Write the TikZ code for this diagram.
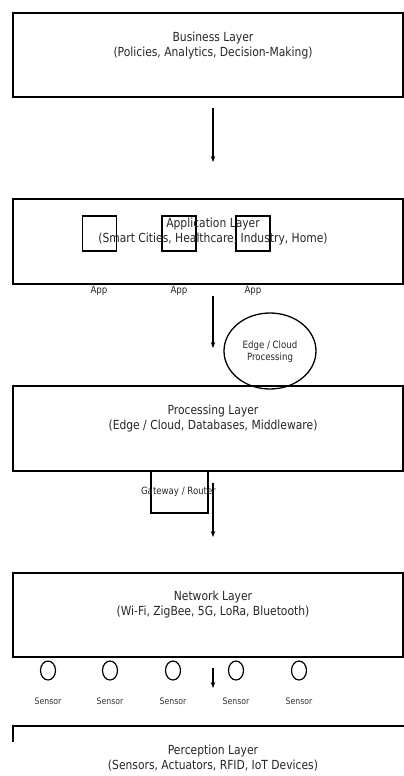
\documentclass[tikz,border=0pt]{standalone}
\usepackage{fontspec}
\setmainfont{DejaVu Sans}[FakeStretch=0.86]
\usetikzlibrary{shapes.geometric,arrows.meta}
\tikzset{
  layerbox/.style={draw, line width=2pt, minimum width=390pt, inner sep=0pt},
  layertext/.style={align=center, inner sep=0pt, font=\fontsize{12.5}{15}\selectfont, text=black!85},
  smalltext/.style={inner sep=0pt, font=\fontsize{10}{12.5}\selectfont, text=black!85, align=center},
  sensortext/.style={inner sep=0pt, font=\fontsize{9}{11}\selectfont, text=black!80},
  appbox/.style={draw, line width=1.3pt, minimum width=34pt, minimum height=35pt, inner sep=0pt},
  sensorcirc/.style={draw, ellipse, line width=1.2pt, minimum width=15pt, minimum height=19pt, inner sep=0pt},
  flow/.style={line width=1.2pt, -{Stealth[length=6pt,width=4.5pt]}}
}
\begin{document}
\begin{tikzpicture}[x=1pt,y=-1pt]
\useasboundingbox (0,0) rectangle (404,776);
% Business
\node[layerbox, minimum height=84pt] (business) at (208,55) {};
\node[layertext] (businesst) at (213,45.5) {Business Layer\\(Policies, Analytics, Decision-Making)};
\coordinate (a1s) at (213,108);
\coordinate (a1e) at (213,162);
\draw[flow] (a1s) -- (a1e);
% Application
\node[layerbox, minimum height=85pt] (application) at (208,241.5) {};
\node[appbox] (app1) at (99.5,233.5) {};
\node[appbox] (app2) at (179,233.5) {};
\node[appbox] (app3) at (253,233.5) {};
\node[layertext] (applicationt) at (213,232) {Application Layer\\(Smart Cities, Healthcare, Industry, Home)};
\node[smalltext] (app1l) at (99,291) {App};
\node[smalltext] (app2l) at (179,291) {App};
\node[smalltext] (app3l) at (253,291) {App};
\coordinate (a2s) at (213,296);
\coordinate (a2e) at (213,348);
\draw[flow] (a2s) -- (a2e);
\node[draw, ellipse, line width=1.3pt, minimum width=92pt, minimum height=76pt, inner sep=0pt] (edge) at (270,351) {};
\node[smalltext] (edget) at (270,351.5) {Edge / Cloud\\Processing};
% Processing
\node[layerbox, minimum height=85pt] (processing) at (208,428.5) {};
\node[layertext] (processingt) at (213,419) {Processing Layer\\(Edge / Cloud, Databases, Middleware)};
\draw[line width=1.3pt] (processing.south -| 151,0) coordinate (gw1) -- (151,513) coordinate (gw2) -- (208,513) coordinate (gw3) -- (208,471) coordinate (gw4);
\node[smalltext] (gateway) at (178.5,492) {Gateway / Router};
\coordinate (a3s) at (213,483);
\coordinate (a3e) at (213,537);
\draw[flow] (a3s) -- (a3e);
% Network
\node[layerbox, minimum height=84pt] (network) at (208,615) {};
\node[layertext] (networkt) at (213,604.5) {Network Layer\\(Wi-Fi, ZigBee, 5G, LoRa, Bluetooth)};
\foreach \i/\x in {1/48,2/110,3/173,4/236,5/299}{
  \node[sensorcirc] (s\i) at (\x,670.5) {};
  \node[sensortext] (s\i l) at (\x,701) {Sensor};
}
\coordinate (a4s) at (213,668);
\coordinate (a4e) at (213,688);
\draw[flow] (a4s) -- (a4e);
% Perception
\coordinate (p1) at (13,742);
\coordinate (p2) at (13,726);
\coordinate (p3) at (405,726);
\draw[line width=2pt] (p1) -- (p2) -- (p3);
\node[layertext] (perceptiont) at (213,758) {Perception Layer\\(Sensors, Actuators, RFID, IoT Devices)};
\end{tikzpicture}
\end{document}
